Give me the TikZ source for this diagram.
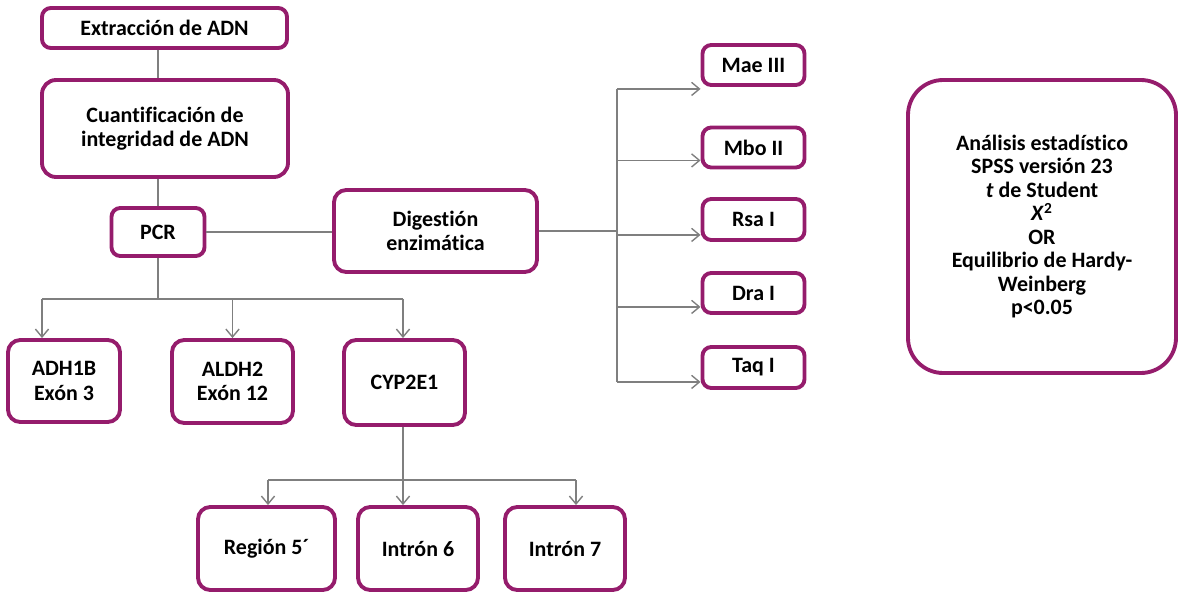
\documentclass[tikz,border=0pt]{standalone}
\usepackage{fontspec}
\setmainfont{Carlito}[Ligatures=CommonOff]
\usepackage{xcolor}
\usetikzlibrary{arrows.meta,calc}
\definecolor{plumframe}{HTML}{951C6C}
\definecolor{graylink}{HTML}{7F7F7F}
\newlength\pxu
\setlength\pxu{0.02cm}
\tikzset{every node/.append style={font=\bfseries\fontsize{12.5}{14}\selectfont},
  box/.style={draw=plumframe,line width=2.2pt,rounded corners=5pt,fill=white,
    align=center,inner sep=0pt},
  link/.style={graylink,line width=0.8pt},
  arr/.style={link,-{Straight Barb[length=4.5pt,width=7.5pt]}}}
\begin{document}
\begin{tikzpicture}[x=\pxu,y=-\pxu]
  % pixel grid of the page: 1178 x 592, y grows downward
  \useasboundingbox (0,0) rectangle (1178,592);
  \node[box,minimum width=245\pxu,minimum height=40\pxu] (extr) at (164.5,28) {Extracción de ADN};
  \node[box,rounded corners=8pt,minimum width=246\pxu,minimum height=97\pxu] (cuant) at (165,128.5)
    {Cuantificación de\\integridad de ADN};
  \node[box,minimum width=93\pxu,minimum height=48\pxu] (pcr) at (158,232) {PCR};
  \node[box,rounded corners=7pt,minimum width=203\pxu,minimum height=82\pxu] (dig) at (435.5,231)
    {Digestión\\enzimática};
  % enzymes
  \node[box,minimum width=102\pxu,minimum height=40\pxu] (mae) at (753.5,65) {Mae III};
  \node[box,minimum width=102\pxu,minimum height=40\pxu] (mbo) at (753.5,147.5) {Mbo II};
  \node[box,minimum width=102\pxu,minimum height=41\pxu] (rsa) at (753.5,219.5) {Rsa I};
  \node[box,minimum width=102\pxu,minimum height=40\pxu] (dra) at (753.5,293) {Dra I};
  \node[box,minimum width=102\pxu,minimum height=41\pxu] (taq) at (753.5,367.5) {Taq I};
  \node[box,rounded corners=20pt,minimum width=268\pxu,minimum height=293\pxu,
    font=\bfseries\fontsize{12.5}{13.4}\selectfont] (stats) at (1042,226.5)
    {Análisis estadístico\\SPSS versión 23\\\textit{t} de Student\\
     \textit{X}\textsuperscript{2}\\OR\\Equilibrio de Hardy-\\Weinberg\\p<0.05};
  % genes
  \node[box,rounded corners=7pt,minimum width=112\pxu,minimum height=82\pxu] (adh) at (64,381)
    {ADH1B\\Exón 3};
  \node[box,rounded corners=7pt,minimum width=121\pxu,minimum height=83\pxu] (aldh) at (232.5,381.5)
    {ALDH2\\Exón 12};
  \node[box,rounded corners=7pt,minimum width=121\pxu,minimum height=85\pxu] (cyp) at (404.5,382.5)
    {CYP2E1};
  \node[box,rounded corners=7pt,minimum width=137\pxu,minimum height=83\pxu] (reg) at (266.5,548.5)
    {Región 5´};
  \node[box,rounded corners=7pt,minimum width=120\pxu,minimum height=83\pxu] (int6) at (418,548.5)
    {Intrón 6};
  \node[box,rounded corners=7pt,minimum width=120\pxu,minimum height=83\pxu] (int7) at (565,548.5)
    {Intrón 7};

  \draw[link] (pcr |- extr.south) -- (pcr |- cuant.north);
  \draw[link] (pcr |- cuant.south) -- (pcr.north);
  \draw[link] (pcr.east) -- (pcr.east -| dig.west);
  % digestion fan-out
  \coordinate (split) at ($(dig.east)+(78,0)$);
  \draw[link] (dig.east) -- (split);
  \foreach \n/\d in {mae/-2,mbo/9,rsa/7,dra/8,taq/8}{
    \coordinate (\n-in) at ($(\n.south west)+(0,-\d)$);
    \draw[arr] (split |- \n-in) -- (\n-in);
  }
  \draw[link] (split |- mae-in) -- (split |- taq-in);
  % PCR fan-out
  \coordinate (pcrbus) at ($(pcr.south)+(0,41)$);
  \coordinate (adh-in) at ($(adh.north)+(-22,0)$);
  \coordinate (cyp-in) at ($(cyp.north)+(-1.5,0)$);
  \draw[link] (pcr.south) -- (pcrbus);
  \draw[link] (adh-in |- pcrbus) -- (cyp-in |- pcrbus);
  \foreach \n in {adh-in,aldh.north,cyp-in}
    \draw[arr] (\n |- pcrbus) -- (\n);
  % CYP2E1 fan-out
  \coordinate (cypbus) at ($(cyp-in)+(0,142)$);
  \coordinate (reg-in) at ($(reg.north)+(1.5,0)$);
  \coordinate (int6-in) at ($(int6.north)+(-15,0)$);
  \coordinate (int7-in) at ($(int7.north)+(11,0)$);
  \draw[arr] (cyp.south -| cyp-in) -- (int6-in);
  \draw[link] (reg-in |- cypbus) -- (int7-in |- cypbus);
  \foreach \n in {reg-in,int7-in}
    \draw[arr] (\n |- cypbus) -- (\n);
\end{tikzpicture}
\end{document}
